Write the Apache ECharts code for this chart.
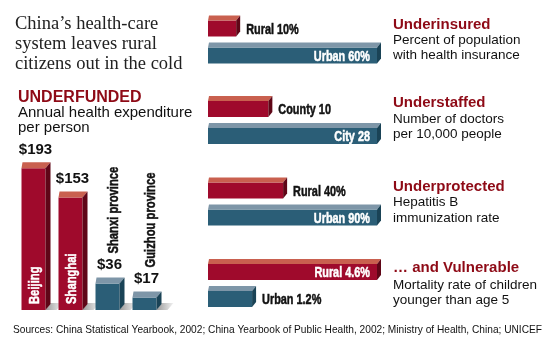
<!DOCTYPE html>
<html>
<head>
<meta charset="utf-8">
<script src="https://cdn.jsdelivr.net/npm/echarts@6/dist/echarts.min.js"></script>
<style>
html,body{margin:0;padding:0;background:#fff;}
#chart{width:552px;height:349px;}
</style>
</head>
<body>
<div id="chart"></div>
<script>
// ---- data ----
const titleLines = ['China\u2019s health-care', 'system leaves rural', 'citizens out in the cold'];
const spendHeading = 'UNDERFUNDED';
const spendSubtitle = ['Annual health expenditure', 'per person'];
const spendPlaces = ['Beijing', 'Shanghai', 'Shanxi province', 'Guizhou province'];
const spendValues = [193, 153, 36, 17];
const spendLabels = ['$193', '$153', '$36', '$17'];

const panelTitles = ['Underinsured', 'Understaffed', 'Underprotected', '\u2026 and Vulnerable'];
const panelSubtitles = [
  ['Percent of population', 'with health insurance'],
  ['Number of doctors', 'per 10,000 people'],
  ['Hepatitis B', 'immunization rate'],
  ['Mortality rate of children', 'younger than age 5']
];
const panelCats = [['Rural', 'Urban'], ['County', 'City'], ['Rural', 'Urban'], ['Rural', 'Urban']];
const insuredValues = [10, 60];
const doctorValues = [10, 28];
const hepatitisValues = [40, 90];
const mortalityValues = [4.6, 1.2];
const panelValues = [insuredValues, doctorValues, hepatitisValues, mortalityValues];
const panelUnits = ['%', '', '%', '%'];
const sourceText = 'Sources: China Statistical Yearbook, 2002; China Yearbook of Public Health, 2002; Ministry of Health, China; UNICEF';

// ---- styles ----
const RED = {front: '#9f0a2c', top: '#c9604f', side: '#5f0617'};
const BLUE = {front: '#2b5e77', top: '#7e96a8', side: '#1a4356'};
const HEAD = '#8e0a16';
const SANS = "'Liberation Sans',Arial,sans-serif";
const SERIF = "'Liberation Serif','DejaVu Serif',serif";
const COND = 0.75; // horizontal squeeze to mimic a condensed face

const measureCtx = document.createElement('canvas').getContext('2d');
function textWidth(text, font) { measureCtx.font = font; return measureCtx.measureText(text).width; }

function condStyle(text, font, fill, align) {
  return {text: text, font: font, fill: fill, stroke: fill, lineWidth: 0.5, align: align, verticalAlign: 'middle'};
}

function renderVert(params, api) {
  const idx = api.value(0), v = api.value(1);
  const top = api.coord([idx, v]);
  const base = api.coord([idx, 0]);
  const cx = top[0];
  const x0 = cx - 12, x1 = cx + 12, y0 = top[1], y1 = base[1];
  const dx = 5, dy = 6;
  const c = idx < 2 ? RED : BLUE;
  const nameFont = 'bold 15px ' + SANS;
  const children = [
    {type: 'polygon', shape: {points: [[x1, y1], [x1 + dx, y1 - 7], [x1 + dx + 12, y1 - 7], [x1 + dx + 6, y1]]},
      style: {fill: new echarts.graphic.LinearGradient(0, 0, 1, 0, [{offset: 0, color: '#9a9a9a'}, {offset: 1, color: '#f2f2f2'}])}},
    {type: 'rect', shape: {x: x0, y: y0, width: x1 - x0, height: y1 - y0}, style: {fill: c.front}},
    {type: 'polygon', shape: {points: [[x0, y0], [x0 + 1, y0 - dy], [x1 + dx, y0 - dy], [x1, y0]]}, style: {fill: c.top}},
    {type: 'polygon', shape: {points: [[x1, y0], [x1 + dx, y0 - dy], [x1 + dx, y1 - dy], [x1, y1]]}, style: {fill: c.side}},
    {type: 'text', x: cx + 2, y: y0 - dy - 5,
      style: {text: spendLabels[idx], font: 'bold 15px ' + SANS, fill: '#111', align: 'center', verticalAlign: 'bottom'}}
  ];
  if (idx < 2) {
    children.push({type: 'text', x: cx + 1, y: y1 - 6, rotation: Math.PI / 2, scaleX: COND,
      style: condStyle(spendPlaces[idx], nameFont, '#fff', 'left')});
  } else {
    children.push({type: 'text', x: cx + 6, y: y0 - dy - 24, rotation: Math.PI / 2, scaleX: COND,
      style: condStyle(spendPlaces[idx], nameFont, '#111', 'left')});
  }
  return {type: 'group', children: children};
}

function makeRenderHoriz(p) {
  return function (params, api) {
    const v = api.value(0), idx = api.value(1);
    const end = api.coord([v, idx]);
    const start = api.coord([0, idx]);
    const cy = end[1];
    const x0 = start[0], x1 = end[0], y0 = cy - 8, y1 = cy + 8;
    const dx = 4, dy = 5;
    const c = idx === 0 ? RED : BLUE;
    const vals = panelValues[p];
    const isMax = v === Math.max.apply(null, vals);
    const label = panelCats[p][idx] + ' ' + v + panelUnits[p];
    const font = 'bold 14.5px ' + SANS;
    const children = [
      {type: 'rect', shape: {x: x0, y: y0, width: x1 - x0, height: y1 - y0}, style: {fill: c.front}},
      {type: 'polygon', shape: {points: [[x0, y0], [x0 + 1, y0 - dy], [x1 + dx, y0 - dy], [x1, y0]]}, style: {fill: c.top}},
      {type: 'polygon', shape: {points: [[x1, y0], [x1 + dx, y0 - dy], [x1 + dx, y1 - dy], [x1, y1]]}, style: {fill: c.side}},
      isMax
        ? {type: 'text', x: x1 - 7, y: cy + 1, scaleX: COND, style: condStyle(label, font, '#fff', 'right')}
        : {type: 'text', x: x1 + dx + 6, y: cy + 1, scaleX: COND, style: condStyle(label, font, '#111', 'left')}
    ];
    return {type: 'group', children: children};
  };
}

const panelTops = [15, 95.5, 177, 258.5];
const grids = [{left: 15, top: 163, width: 148, height: 147}];
const xAxes = [{type: 'category', gridIndex: 0, data: spendPlaces, show: false}];
const yAxes = [{type: 'value', gridIndex: 0, min: 0, max: 200, show: false}];
const series = [{
  type: 'custom', xAxisIndex: 0, yAxisIndex: 0, clip: false,
  data: spendValues.map((v, i) => [i, v]), encode: {x: 0, y: 1},
  renderItem: renderVert
}];
panelValues.forEach((vals, p) => {
  const g = p + 1;
  grids.push({left: 208, top: panelTops[p], width: 169, height: 54});
  xAxes.push({type: 'value', gridIndex: g, min: 0, max: Math.max.apply(null, vals), show: false});
  yAxes.push({type: 'category', gridIndex: g, data: panelCats[p], inverse: true, show: false});
  series.push({
    type: 'custom', xAxisIndex: g, yAxisIndex: g, clip: false,
    data: vals.map((v, i) => [v, i]), encode: {x: 0, y: 1},
    renderItem: makeRenderHoriz(p)
  });
});

const graphics = [];
titleLines.forEach((t, i) => graphics.push({type: 'text', x: 15, y: 24 + i * 20,
  style: {text: t, font: '18.5px ' + SERIF, fill: '#222', verticalAlign: 'middle'}}));
graphics.push({type: 'text', x: 18, y: 97.5, style: {text: spendHeading, font: 'bold 16px ' + SANS, fill: HEAD, verticalAlign: 'middle'}});
spendSubtitle.forEach((t, i) => graphics.push({type: 'text', x: 18, y: 113 + i * 15,
  style: {text: t, font: '15px ' + SANS, fill: '#111', verticalAlign: 'middle'}}));
const headBase = [30, 108, 192, 273];
const subBase = [[45, 60], [124, 139], [207, 223], [290, 305]];
panelTitles.forEach((t, p) => {
  graphics.push({type: 'text', x: 393, y: headBase[p] - 5, style: {text: t, font: 'bold 15px ' + SANS, fill: HEAD, verticalAlign: 'middle'}});
  panelSubtitles[p].forEach((s, j) => graphics.push({type: 'text', x: 393, y: subBase[p][j] - 4.5,
    style: {text: s, font: '13.5px ' + SANS, fill: '#111', verticalAlign: 'middle'}}));
});
const srcFont = '11px ' + SANS;
const srcScale = 529 / textWidth(sourceText, srcFont);
graphics.push({type: 'text', x: 13, y: 330, scaleX: srcScale, style: {text: sourceText, font: srcFont, fill: '#111', verticalAlign: 'middle'}});

const chart = echarts.init(document.getElementById('chart'), null, {renderer: 'canvas'});
chart.setOption({
  animation: false,
  backgroundColor: '#fff',
  grid: grids, xAxis: xAxes, yAxis: yAxes, series: series,
  graphic: graphics
});
</script>
</body>
</html>
